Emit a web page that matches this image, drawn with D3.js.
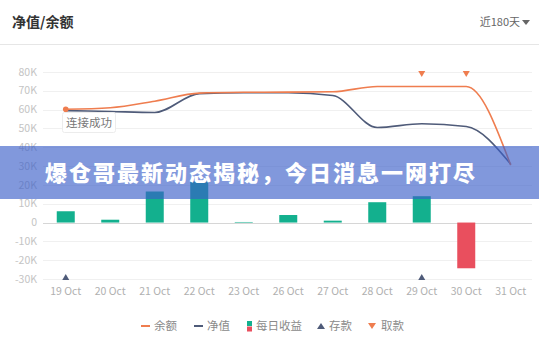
<!DOCTYPE html>
<meta charset="utf-8">
<style>
body { margin: 0; background: #fff; }
svg text { font-family: "Noto Sans CJK SC", "Noto Sans", sans-serif; }
</style>
<svg width="539" height="347"></svg>
<script src="https://d3js.org/d3.v7.min.js"></script>
<script>

// data
var days = ["19 Oct", "20 Oct", "21 Oct", "22 Oct", "23 Oct", "26 Oct", "27 Oct", "28 Oct", "29 Oct", "30 Oct", "31 Oct"];
var balance = [60200, 61000, 64500, 68800, 69200, 69300, 69500, 72300, 72300, 72300, 30500];
var netValue = [59500, 59000, 58500, 68500, 69000, 69000, 67500, 50500, 52500, 51000, 31000];
var dailyProfit = [6000, 1500, 16500, 21800, 300, 4000, 1000, 10800, 14000, -24300, 0];
var deposits = ["19 Oct", "29 Oct"];
var withdrawals = ["29 Oct", "30 Oct"];
var yTicks = [80000, 70000, 60000, 50000, 40000, 30000, 20000, 10000, 0, -10000, -20000, -30000];

var orange = "#ef7d4f", navy = "#4f5b79", green = "#13b08e", red = "#e94f5e";

var svg = d3.select("svg");

// header
svg.append("text").attr("x", 12).attr("y", 27)
    .attr("font-size", 14).attr("font-weight", "bold").attr("fill", "#333")
    .text("净值/余额");
svg.append("text").attr("x", 520).attr("y", 26).attr("text-anchor", "end")
    .attr("font-size", 11).attr("fill", "#666").text("近180天");
svg.append("path").attr("d", "M522,20L530,20L526,25Z").attr("fill", "#666");
svg.append("line").attr("x1", 0).attr("x2", 539).attr("y1", 44.5).attr("y2", 44.5)
    .attr("stroke", "#e6e6e6");

var x = d3.scaleBand().domain(days).range([43.5, 533]);
var y = d3.scaleLinear().domain([-30000, 80000]).range([279, 72]);
var cx = function(d) { return x(d) + x.bandwidth() / 2; };

// grid
svg.append("g").selectAll("line").data(yTicks).enter().append("line")
    .attr("x1", 43).attr("x2", 532)
    .attr("y1", function(d) { return Math.round(y(d)) + 0.5; })
    .attr("y2", function(d) { return Math.round(y(d)) + 0.5; })
    .attr("stroke", function(d) { return d === 0 ? "#d6d6d6" : "#f0f0f0"; });

svg.append("g").selectAll("text").data(yTicks).enter().append("text")
    .attr("x", 37).attr("y", function(d) { return y(d); }).attr("dy", "0.35em")
    .attr("text-anchor", "end").attr("font-size", 10.5).attr("fill", "#c4c4c4")
    .text(function(d) { return d === 0 ? "0" : (d / 1000) + "K"; });

svg.append("g").selectAll("text").data(days).enter().append("text")
    .attr("x", cx).attr("y", 295).attr("text-anchor", "middle")
    .attr("font-size", 10.5).attr("fill", "#b0b0b0")
    .text(function(d) { return d; });

// bars
var bw = 18;
svg.append("g").selectAll("rect").data(dailyProfit).enter().append("rect")
    .attr("x", function(d, i) { return cx(days[i]) - bw / 2; })
    .attr("y", function(d) { return y(Math.max(0, d)); })
    .attr("width", bw)
    .attr("height", function(d) { return Math.abs(y(d) - y(0)); })
    .attr("fill", function(d) { return d < 0 ? red : green; });

// lines
function lineOf(vals) {
  return d3.line().curve(d3.curveMonotoneX)
      .x(function(d, i) { return cx(days[i]); })
      .y(function(d) { return y(d); })(vals);
}
svg.append("path").attr("d", lineOf(netValue)).attr("fill", "none")
    .attr("stroke", navy).attr("stroke-width", 1.6);
svg.append("path").attr("d", lineOf(balance)).attr("fill", "none")
    .attr("stroke", orange).attr("stroke-width", 1.6);
svg.append("circle").attr("cx", cx(days[0])).attr("cy", y(balance[0])).attr("r", 2.8)
    .attr("fill", orange);

// deposit / withdrawal markers
svg.append("g").selectAll("path").data(deposits).enter().append("path")
    .attr("transform", function(d) { return "translate(" + cx(d) + ",277)"; })
    .attr("d", "M-3.5,3L3.5,3L0,-3Z").attr("fill", navy);
svg.append("g").selectAll("path").data(withdrawals).enter().append("path")
    .attr("transform", function(d) { return "translate(" + cx(d) + ",74)"; })
    .attr("d", "M-3.5,-3L3.5,-3L0,3Z").attr("fill", orange);

// toast
var toast = svg.append("g");
toast.append("rect").attr("x", 62.5).attr("y", 112.5).attr("width", 53).attr("height", 20)
    .attr("fill", "#fff").attr("stroke", "#ececec").attr("rx", 2);
toast.append("text").attr("x", 89).attr("y", 126.5).attr("text-anchor", "middle")
    .attr("font-size", 11.5).attr("fill", "#777").text("连接成功");

// legend
var lg = svg.append("g").attr("font-size", 11.5).attr("fill", "#8a8a8a");
lg.append("line").attr("x1", 141).attr("x2", 150).attr("y1", 326).attr("y2", 326)
    .attr("stroke", orange).attr("stroke-width", 2);
lg.append("text").attr("x", 154).attr("y", 330).text("余额");
lg.append("line").attr("x1", 194).attr("x2", 203).attr("y1", 326).attr("y2", 326)
    .attr("stroke", navy).attr("stroke-width", 2);
lg.append("text").attr("x", 207).attr("y", 330).text("净值");
lg.append("rect").attr("x", 247).attr("y", 321).attr("width", 5).attr("height", 5).attr("fill", green);
lg.append("rect").attr("x", 247).attr("y", 326.5).attr("width", 5).attr("height", 5).attr("fill", red);
lg.append("text").attr("x", 256).attr("y", 330).text("每日收益");
lg.append("path").attr("d", "M317,329L325,329L321,323Z").attr("fill", navy);
lg.append("text").attr("x", 329).attr("y", 330).text("存款");
lg.append("path").attr("d", "M368,323L376,323L372,329Z").attr("fill", orange);
lg.append("text").attr("x", 381).attr("y", 330).text("取款");

// banner over the chart
svg.append("rect").attr("x", 0).attr("y", 146).attr("width", 539).attr("height", 53)
    .attr("fill", "rgb(58,94,200)").attr("fill-opacity", 0.64);
svg.append("text").attr("x", 45).attr("y", 181)
    .attr("font-size", 22).attr("font-weight", "900").attr("fill", "#fff")
    .attr("letter-spacing", 2)
    .text("爆仓哥最新动态揭秘，今日消息一网打尽");

</script>
